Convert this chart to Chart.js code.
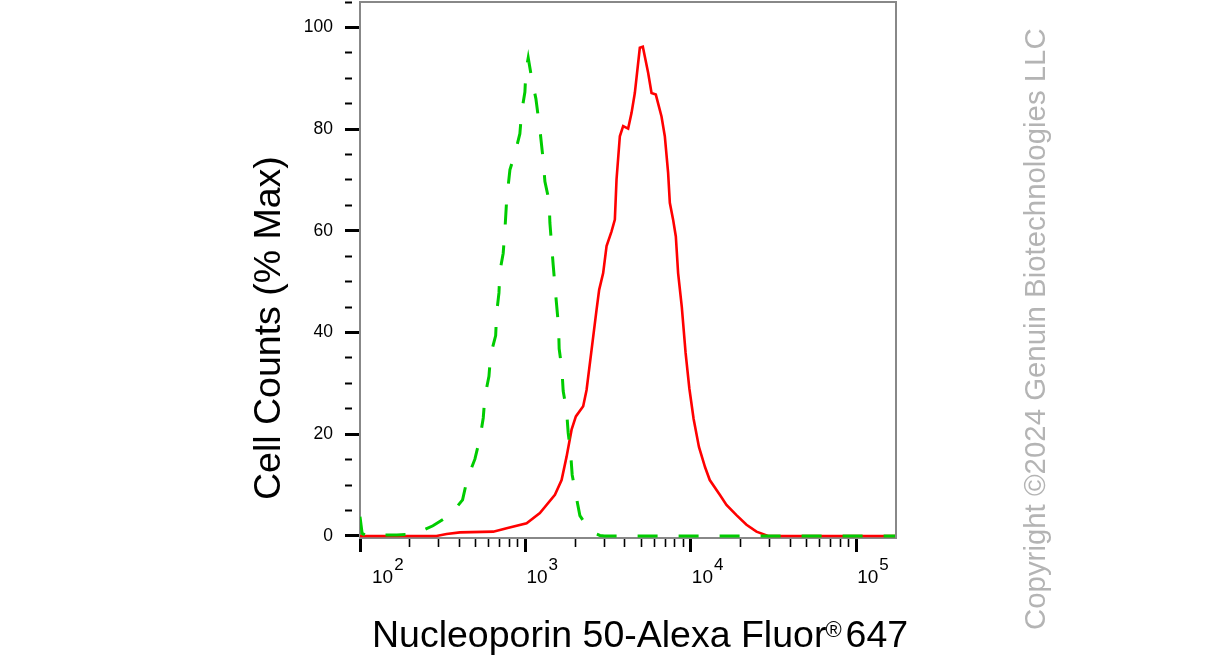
<!DOCTYPE html>
<html>
<head>
<meta charset="utf-8">
<script src="https://cdn.jsdelivr.net/npm/chart.js@4.4.1/dist/chart.umd.min.js"></script>
<style>
html,body{margin:0;padding:0;background:#fff;}
canvas{display:block;}
</style>
</head>
<body>
<canvas id="c" width="1207" height="667"></canvas>
<script>
// ---------- data ----------
const seriesNames = ['Isotype control', 'Nucleoporin 50'];
const isoX = [100, 103, 110, 127, 167, 215, 276, 350, 417, 445, 495, 531, 556, 569, 602, 616, 661, 670, 692, 701, 734, 752, 770, 806, 864, 926, 948, 993, 1007, 1040, 1090, 1157, 1223, 1281, 1312, 1392, 1406, 1472, 1529, 1587, 1600, 1662, 1692, 1774, 1814, 1876, 1918, 2019, 2135, 2478, 2820, 3000, 174000];
const isoY = [3.8, 0.5, 0, 0.2, 0.2, 0.4, 2.0, 4.1, 7.1, 11.2, 15.1, 19.2, 23.2, 27.4, 31.4, 35.6, 39.4, 43.8, 47.8, 52, 55.6, 60.2, 66, 72, 75.2, 79.1, 83.3, 87.3, 91.4, 94, 90.1, 86, 80, 73.9, 69.7, 65.8, 61.6, 53.3, 47, 41.1, 36.8, 32.8, 28.5, 24.6, 20.3, 16.4, 12, 8.1, 4, 0.85, 0.1, 0, 0];
const nupX = [100, 290, 334, 402, 639, 770, 1017, 1223, 1508, 1655, 1774, 1902, 2019, 2235, 2343, 2512, 2693, 2792, 2952, 3095, 3318, 3474, 3556, 3724, 3899, 4180, 4383, 4587, 4918, 5128, 5521, 5788, 6144, 6651, 6964, 7292, 7467, 7816, 8118, 8380, 8823, 9300, 9800, 10400, 11200, 12200, 13020, 14970, 16430, 18880, 21710, 24950, 29320, 174000];
const nupY = [0, 0, 0.4, 0.7, 0.85, 1.5, 2.5, 4.5, 8.1, 11, 15.6, 20.9, 23.5, 25.5, 28.7, 36.6, 44.5, 48.4, 51.7, 57, 59.9, 62.2, 70.1, 78.6, 80.6, 80.1, 83.2, 87.1, 96, 96.2, 91.1, 87.1, 86.8, 82.5, 78.6, 71.4, 65.5, 62.2, 58.9, 51.7, 45, 36, 29, 23, 17.5, 13.5, 11, 8.1, 6.1, 4.1, 2.2, 0.85, 0, 0];

const yTickValues = [0, 5, 10, 15, 20, 25, 30, 35, 40, 45, 50, 55, 60, 65, 70, 75, 80, 85, 90, 95, 100, 105];
const yTickLabels = [0, 20, 40, 60, 80, 100];
const xTickValues = [100, 200, 300, 400, 500, 600, 700, 800, 900, 1000, 2000, 3000, 4000, 5000, 6000, 7000, 8000, 9000, 10000, 20000, 30000, 40000, 50000, 60000, 70000, 80000, 90000, 100000];
const xDecadeExponents = [2, 3, 4, 5];
const xTitle = 'Nucleoporin 50-Alexa Fluor';
const xTitleMark = '\u00AE';
const xTitleEnd = '647';
const yTitle = 'Cell Counts (% Max)';
const copyrightText = 'Copyright \u00A92024 Genuin Biotechnologies LLC';

// ---------- helpers ----------
const FONT = '"Liberation Sans", Arial, Helvetica, sans-serif';
const isDecade = v => Math.abs(Math.log10(v) - Math.round(Math.log10(v))) < 1e-9;
const toPoints = (xs, ys) => xs.map((x, i) => ({x: x, y: ys[i]}));

Chart.defaults.font.family = FONT;

const textPlugin = {
  id: 'textPlugin',
  afterDraw(chart) {
    const {ctx, chartArea: a, scales} = chart;
    ctx.save();
    // top and right frame
    ctx.strokeStyle = '#888888';
    ctx.lineWidth = 2;
    ctx.beginPath();
    ctx.moveTo(a.left, a.top);
    ctx.lineTo(a.right, a.top);
    ctx.lineTo(a.right, a.bottom);
    ctx.stroke();

    // x tick labels with superscript exponents
    ctx.fillStyle = '#000';
    ctx.textAlign = 'left';
    ctx.textBaseline = 'alphabetic';
    xDecadeExponents.forEach(e => {
      const px = scales.x.getPixelForValue(Math.pow(10, e));
      const x0 = Math.max(px + 1, a.left + 12);
      ctx.font = '19px ' + FONT;
      ctx.fillText('10', x0, 583);
      const w = ctx.measureText('10').width;
      ctx.font = '17px ' + FONT;
      ctx.fillText(String(e), x0 + w + 1, 570);
    });

    // x title
    ctx.font = '37.5px ' + FONT;
    let tx = 372;
    ctx.fillText(xTitle, tx, 647);
    tx += ctx.measureText(xTitle).width - 1;
    ctx.font = '22px ' + FONT;
    ctx.fillText(xTitleMark, tx, 637);
    tx += ctx.measureText(xTitleMark).width + 4;
    ctx.font = '37.5px ' + FONT;
    ctx.fillText(xTitleEnd, tx, 647);

    // y title
    ctx.save();
    ctx.translate(280, 500);
    ctx.rotate(-Math.PI / 2);
    ctx.font = '37.5px ' + FONT;
    ctx.fillText(yTitle, 0, 0);
    ctx.restore();

    // copyright
    ctx.save();
    ctx.translate(1045, 630);
    ctx.rotate(-Math.PI / 2);
    ctx.font = '29.4px ' + FONT;
    ctx.fillStyle = '#b4b4b4';
    ctx.fillText(copyrightText, 0, 0);
    ctx.restore();

    ctx.restore();
  }
};

new Chart(document.getElementById('c'), {
  type: 'scatter',
  data: {
    datasets: [
      {
        label: seriesNames[0],
        data: toPoints(isoX, isoY),
        showLine: true,
        borderColor: '#00cc00',
        borderWidth: 3,
        borderDash: [20, 21],
        pointRadius: 0,
        tension: 0,
        fill: false
      },
      {
        label: seriesNames[1],
        data: toPoints(nupX, nupY),
        showLine: true,
        borderColor: '#ff0000',
        borderWidth: 2.6,
        pointRadius: 0,
        tension: 0,
        fill: false
      }
    ]
  },
  options: {
    responsive: false,
    animation: false,
    events: [],
    layout: { padding: { left: 0, right: 311, top: 2, bottom: 0 } },
    plugins: {
      legend: { display: false },
      tooltip: { enabled: false },
      title: { display: false }
    },
    scales: {
      x: {
        type: 'logarithmic',
        position: 'bottom',
        min: 100,
        max: 174000,
        afterBuildTicks: s => { s.ticks = xTickValues.map(v => ({value: v, major: isDecade(v)})); },
        afterFit: s => { s.height = 129; s.paddingLeft = 0; s.paddingRight = 0; },
        ticks: { callback: () => '', autoSkip: false, maxRotation: 0, minRotation: 0, padding: 0 },
        grid: {
          drawOnChartArea: false,
          drawTicks: true,
          tickLength: 14,
          tickColor: '#000',
          tickWidth: c => (c.tick && isDecade(c.tick.value)) ? 3 : 1.6,
          tickBorderDash: c => (c.tick && !isDecade(c.tick.value)) ? [8, 100] : []
        },
        border: { display: true, color: '#888888', width: 2 }
      },
      y: {
        type: 'linear',
        position: 'left',
        min: -0.4,
        max: 105,
        afterBuildTicks: s => { s.ticks = yTickValues.map(v => ({value: v})); },
        afterFit: s => { s.width = 360; s.paddingTop = 0; s.paddingBottom = 0; },
        ticks: {
          callback: v => yTickLabels.includes(v) ? String(v) : '',
          autoSkip: false,
          color: '#000',
          font: { size: 17.5, family: FONT },
          padding: 12
        },
        grid: {
          drawOnChartArea: false,
          drawTicks: true,
          tickLength: 15,
          tickColor: '#000',
          tickWidth: c => (c.tick && yTickLabels.includes(c.tick.value)) ? 3 : 2,
          tickBorderDash: c => (c.tick && !yTickLabels.includes(c.tick.value)) ? [7, 100] : []
        },
        border: { display: true, color: '#888888', width: 2 }
      }
    }
  },
  plugins: [textPlugin]
});
</script>
</body>
</html>
